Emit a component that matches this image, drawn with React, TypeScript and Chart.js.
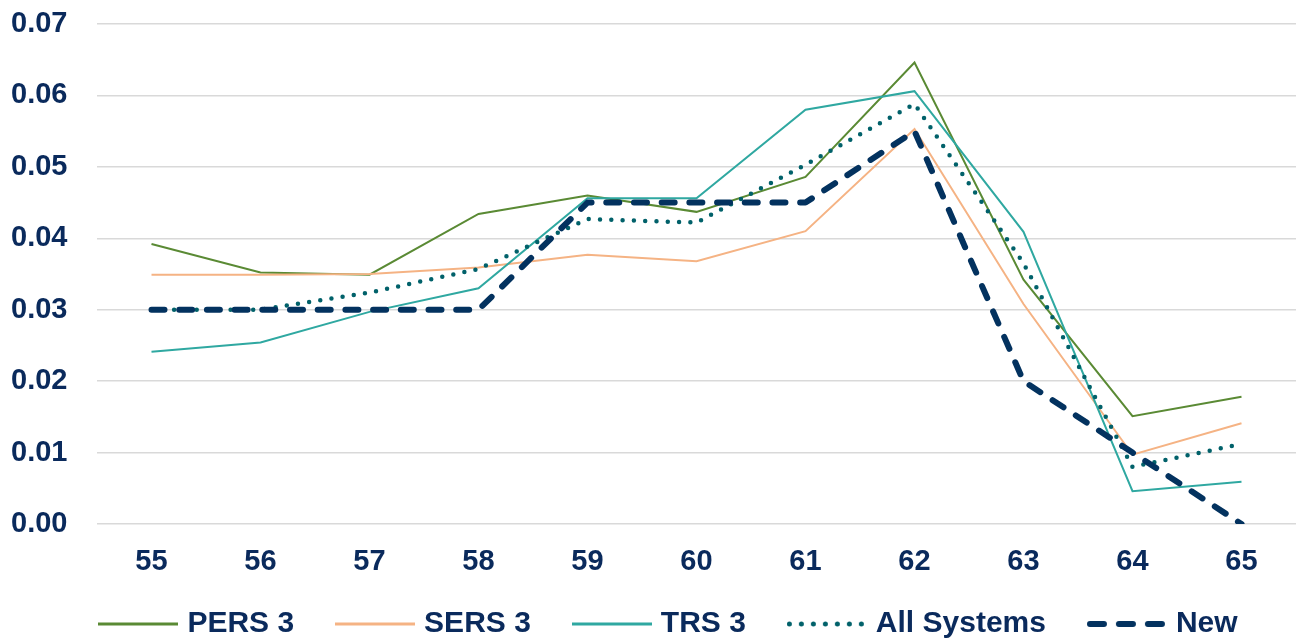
import React, { useEffect, useRef } from "react";
import { Chart, registerables } from "chart.js";

Chart.register(...registerables);

const categories = ["55", "56", "57", "58", "59", "60", "61", "62", "63", "64", "65"];
const pers3 = [0.0392, 0.0352, 0.0349, 0.0434, 0.046, 0.0437, 0.0486, 0.0646, 0.0342, 0.0151, 0.0178];
const sers3 = [0.0349, 0.0349, 0.035, 0.0359, 0.0377, 0.0368, 0.041, 0.0553, 0.0308, 0.0097, 0.0141];
const trs3 = [0.0241, 0.0254, 0.0297, 0.033, 0.0456, 0.0456, 0.058, 0.0606, 0.0409, 0.0046, 0.0059];
const allSystems = [0.03, 0.03, 0.0324, 0.0357, 0.0427, 0.0422, 0.0503, 0.0588, 0.0365, 0.008, 0.0112];
const newRates = [0.03, 0.03, 0.03, 0.03, 0.045, 0.045, 0.045, 0.055, 0.02, 0.01, 0.0];
const yTicks = [0, 0.01, 0.02, 0.03, 0.04, 0.05, 0.06, 0.07];

const TEXT = "#0A2A5C";
const FONT = "'Liberation Sans', Arial, sans-serif";

function makeSwatch(color: string, lw: number, dash: number[], cap: CanvasLineCap, inset: number) {
  const c = document.createElement("canvas");
  c.width = 80;
  c.height = 12;
  const ctx = c.getContext("2d")!;
  ctx.strokeStyle = color;
  ctx.lineWidth = lw;
  ctx.lineCap = cap;
  ctx.setLineDash(dash);
  ctx.beginPath();
  ctx.moveTo(inset, 6);
  ctx.lineTo(80 - inset, 6);
  ctx.stroke();
  return c;
}

const legendShift = {
  id: "legendShift",
  afterLayout(chart: any) {
    const l = chart.legend;
    if (!l) return;
    const dx = 17.5;
    const dy = -18;
    l.left += dx;
    l.right += dx;
    l.top += dy;
    l.bottom = chart.height;
    l.height = l.bottom - l.top;
  },
};

export default function App() {
  const ref = useRef<HTMLCanvasElement | null>(null);
  useEffect(() => {
    if (!ref.current) return;
    const swatches = [
      makeSwatch("#5A8A34", 3, [], "butt", 0),
      makeSwatch("#F5B384", 3, [], "butt", 0),
      makeSwatch("#2FA8A1", 3, [], "butt", 0),
      makeSwatch("#01616A", 5, [0, 12], "round", 2.5),
      makeSwatch("#03325F", 6, [14, 15], "round", 3),
    ];
    const chart = new Chart(ref.current, {
      type: "line",
      data: {
        labels: categories,
        datasets: [
          { label: "PERS 3", data: pers3, borderColor: "#5A8A34", backgroundColor: "#5A8A34", borderWidth: 2, order: 5 },
          { label: "SERS 3", data: sers3, borderColor: "#F5B384", backgroundColor: "#F5B384", borderWidth: 2, order: 4 },
          { label: "TRS 3", data: trs3, borderColor: "#2FA8A1", backgroundColor: "#2FA8A1", borderWidth: 2, order: 3 },
          {
            label: "All Systems", data: allSystems, borderColor: "#01616A", backgroundColor: "#01616A",
            borderWidth: 4.5, borderDash: [0, 11.3], borderCapStyle: "round", order: 2,
          },
          {
            label: "New", data: newRates, borderColor: "#03325F", backgroundColor: "#03325F",
            borderWidth: 6, borderDash: [13, 14.7], borderCapStyle: "round", borderJoinStyle: "round", order: 1,
          },
        ].map((d) => ({ ...d, pointRadius: 0, pointHoverRadius: 0, tension: 0, fill: false })),
      },
      plugins: [legendShift],
      options: {
        responsive: false,
        animation: false,
        layout: { padding: { top: 0, left: 11, right: 8, bottom: 0 } },
        plugins: {
          tooltip: { enabled: false },
          legend: {
            position: "bottom",
            maxHeight: 61,
            labels: {
              usePointStyle: true,
              pointStyleWidth: 68,
              padding: 47,
              color: TEXT,
              font: { family: FONT, size: 30, weight: "bold" },
              sort: (a: any, b: any) => a.datasetIndex - b.datasetIndex,
              generateLabels: (ch: any) => {
                const items = Chart.defaults.plugins.legend.labels.generateLabels(ch);
                return items.map((it: any) => ({ ...it, pointStyle: swatches[it.datasetIndex] }));
              },
            },
          },
        },
        scales: {
          x: {
            offset: true,
            grid: { display: false, drawTicks: false },
            border: { display: false },
            afterFit: (s: any) => {
              s.height = 56;
            },
            ticks: { color: TEXT, padding: 21, font: { family: FONT, size: 29, weight: "bold" }, maxRotation: 0 },
          },
          y: {
            min: 0,
            max: 0.07,
            afterBuildTicks: (axis: any) => {
              axis.ticks = yTicks.map((v) => ({ value: v }));
            },
            afterFit: (s: any) => {
              s.width = 86;
            },
            grid: { color: "#D9D9D9", lineWidth: 1.5, drawTicks: false },
            border: { display: false },
            ticks: {
              color: TEXT,
              padding: 6.6,
              crossAlign: "far",
              font: { family: FONT, size: 29, weight: "bold" },
              callback: (v: any) => Number(v).toFixed(2),
            },
          },
        },
      },
    });
    return () => chart.destroy();
  }, []);
  return (
    <div style={{ position: "fixed", left: 0, top: 0, width: 1304, height: 641, background: "#fff" }}>
      <canvas ref={ref} width={1304} height={641} style={{ display: "block" }} />
    </div>
  );
}
